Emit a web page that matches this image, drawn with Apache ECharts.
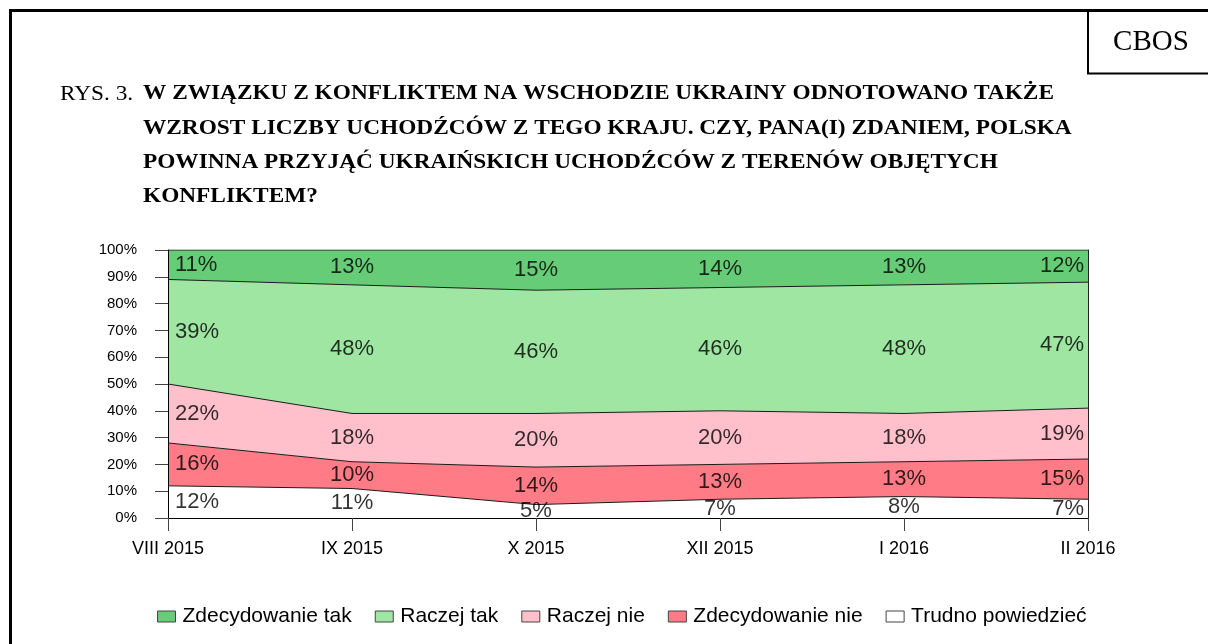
<!DOCTYPE html>
<html>
<head>
<meta charset="utf-8">
<script src="https://cdn.jsdelivr.net/npm/echarts@6/dist/echarts.min.js"></script>
<style>
  html, body { margin: 0; padding: 0; background: #fff; }
  #chart { width: 1208px; height: 644px; }
</style>
</head>
<body>
<div id="chart"></div>
<script>
  // dane (w %)
  const categories = ['VIII 2015', 'IX 2015', 'X 2015', 'XII 2015', 'I 2016', 'II 2016'];
  const trudno = [12, 11, 5, 7, 8, 7];
  const zdecydowanieNie = [16, 10, 14, 13, 13, 15];
  const raczejNie = [22, 18, 20, 20, 18, 19];
  const raczejTak = [39, 48, 46, 46, 48, 47];
  const zdecydowanieTak = [11, 13, 15, 14, 13, 12];
  const legendOrder = ['Zdecydowanie tak', 'Raczej tak', 'Raczej nie', 'Zdecydowanie nie', 'Trudno powiedzieć'];

  // od dołu do góry stosu
  const layers = [
    { name: 'Trudno powiedzieć', values: trudno, color: '#ffffff' },
    { name: 'Zdecydowanie nie', values: zdecydowanieNie, color: '#ff7b86' },
    { name: 'Raczej nie', values: raczejNie, color: '#ffc0cb' },
    { name: 'Raczej tak', values: raczejTak, color: '#9ee6a2' },
    { name: 'Zdecydowanie tak', values: zdecydowanieTak, color: '#66cc77' },
  ];

  const sans = '"Liberation Sans", Arial, sans-serif';
  const serif = '"Liberation Serif", "Times New Roman", serif';
  const last = categories.length - 1;

  const series = [];
  const labelData = [];
  let base = categories.map(() => 0);
  layers.forEach((l) => {
    series.push({
      name: l.name,
      type: 'line',
      stack: 'total',
      data: l.values,
      showSymbol: false,
      symbol: 'none',
      lineStyle: { color: '#1a1a1a', width: 1 },
      itemStyle: { color: l.color },
      areaStyle: { color: l.color, opacity: 1 },
      silent: true,
      z: 2,
    });
    l.values.forEach((v, j) => {
      let label = {};
      if (j === 0) label = { align: 'left', offset: [7, 0] };
      if (j === last) label = { align: 'right', offset: [-4, 0] };
      labelData.push({ value: [j, base[j] + v / 2, v], label: label });
    });
    base = base.map((b, j) => b + l.values[j]);
  });

  // etykiety wartości w środku każdego pasma
  series.push({
    name: 'etykiety',
    type: 'scatter',
    data: labelData,
    symbolSize: 0,
    itemStyle: { color: 'transparent' },
    silent: true,
    z: 10,
    label: {
      show: true,
      position: 'inside',
      color: '#000',
      textBorderWidth: 0,
      textBorderColor: 'transparent',
      fontFamily: sans,
      fontSize: 22,
      formatter: (p) => p.value[2] + '%',
    },
  });

  const titleFont = 'bold 21px ' + serif;
  const titleScale = 1.11;

  const chart = echarts.init(document.getElementById('chart'), null, { renderer: 'canvas' });
  chart.setOption({
    animation: false,
    backgroundColor: '#fff',
    grid: { left: 168, right: 120, top: 250, bottom: 126 },
    legend: {
      data: legendOrder,
      left: 152,
      top: 601,
      icon: 'rect',
      itemWidth: 18,
      itemHeight: 11,
      itemGap: 23,
      itemStyle: { borderColor: '#444', borderWidth: 1 },
      textStyle: { fontFamily: sans, fontSize: 21, color: '#000', padding: [0, 0, 0, 2] },
      selectedMode: false,
    },
    xAxis: {
      type: 'category',
      data: categories,
      boundaryGap: false,
      axisLine: { show: true, lineStyle: { color: '#000', width: 1 } },
      axisTick: { show: true, length: 13, lineStyle: { color: '#444' } },
      axisLabel: { color: '#000', fontFamily: sans, fontSize: 18, margin: 22 },
      splitLine: { show: false },
      z: 5,
    },
    yAxis: [
      {
        type: 'value',
        min: 0,
        max: 100,
        interval: 10,
        axisLine: { show: true, lineStyle: { color: '#000', width: 1 } },
        axisTick: { show: true, inside: false, length: 13, lineStyle: { color: '#444' } },
        axisLabel: { color: '#000', fontFamily: sans, fontSize: 15, margin: 31, formatter: '{value}%' },
        splitLine: { show: false },
        z: 5,
      },
      {
        type: 'value',
        position: 'right',
        min: 0,
        max: 100,
        axisLine: { show: true, lineStyle: { color: '#222', width: 1 } },
        axisTick: { show: false },
        axisLabel: { show: false },
        splitLine: { show: false },
        z: 5,
      },
    ],
    series: series,
    graphic: [
      { type: 'polyline', shape: { points: [[10.5, 660], [10.5, 10.5], [1220, 10.5]] }, style: { stroke: '#000', lineWidth: 3, fill: null } },
      { type: 'polyline', shape: { points: [[1088, 10], [1088, 73.5], [1220, 73.5]] }, style: { stroke: '#000', lineWidth: 2, fill: null } },
      { type: 'text', style: { text: 'CBOS', x: 1151, y: 42, align: 'center', verticalAlign: 'middle', font: '29px ' + serif, fill: '#000' } },
      { type: 'text', x: 60, y: 94, scaleX: titleScale, style: { text: 'RYS. 3.', verticalAlign: 'middle', font: '21px ' + serif, fill: '#000' } },
      { type: 'text', x: 143, y: 94, scaleX: titleScale, style: { text: 'W ZWIĄZKU Z KONFLIKTEM NA WSCHODZIE UKRAINY ODNOTOWANO TAKŻE', verticalAlign: 'middle', font: titleFont, fill: '#000' } },
      { type: 'text', x: 143, y: 129, scaleX: titleScale, style: { text: 'WZROST LICZBY UCHODŹCÓW Z TEGO KRAJU. CZY, PANA(I) ZDANIEM, POLSKA', verticalAlign: 'middle', font: titleFont, fill: '#000' } },
      { type: 'text', x: 143, y: 163, scaleX: titleScale, style: { text: 'POWINNA PRZYJĄĆ UKRAIŃSKICH UCHODŹCÓW Z TERENÓW OBJĘTYCH', verticalAlign: 'middle', font: titleFont, fill: '#000' } },
      { type: 'text', x: 143, y: 197, scaleX: titleScale, style: { text: 'KONFLIKTEM?', verticalAlign: 'middle', font: titleFont, fill: '#000' } },
    ],
  });
</script>
</body>
</html>
